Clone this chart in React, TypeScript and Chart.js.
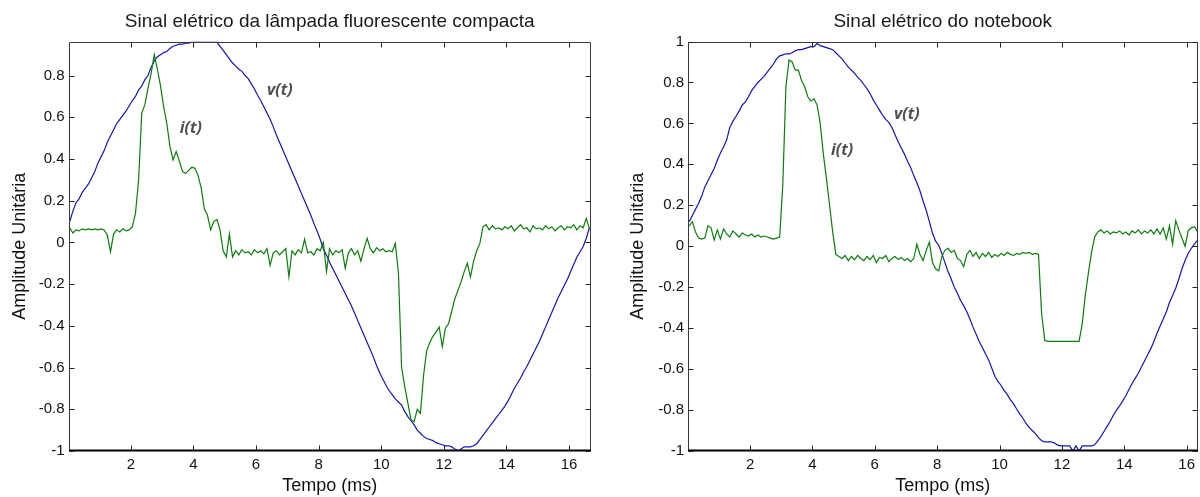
import React, { useEffect, useRef } from 'react';
import { Chart, registerables } from 'chart.js';

Chart.register(...registerables);

// ---- sampling of the traces (ms) ----
const SAMPLE_START_MS = 0.05;
const SAMPLE_STEP_MS = 0.1;

// ---- tick labels ----
const X_TICKS = [2, 4, 6, 8, 10, 12, 14, 16];
const Y_TICKS_LAMP = [-1, -0.8, -0.6, -0.4, -0.2, 0, 0.2, 0.4, 0.6, 0.8];
const Y_TICKS_NOTEBOOK = [-1, -0.8, -0.6, -0.4, -0.2, 0, 0.2, 0.4, 0.6, 0.8, 1];

// ---- texts ----
const TITLE_LAMP = 'Sinal elétrico da lâmpada fluorescente compacta';
const TITLE_NOTEBOOK = 'Sinal elétrico do notebook';
const X_LABEL = 'Tempo (ms)';
const Y_LABEL = 'Amplitude Unitária';

// ---- series: compact fluorescent lamp ----
const LAMP_VOLTAGE = [
  0.10, 0.15, 0.19, 0.21, 0.24, 0.26, 0.28, 0.31, 0.34, 0.38,
  0.41, 0.44, 0.48, 0.51, 0.54, 0.57, 0.59, 0.61, 0.63, 0.655,
  0.68, 0.70, 0.73, 0.75, 0.78, 0.80, 0.84, 0.87, 0.89, 0.90,
  0.91, 0.915, 0.93, 0.94, 0.945, 0.95, 0.95, 0.955, 0.955, 0.96,
  0.96, 0.96, 0.96, 0.96, 0.96, 0.96, 0.96, 0.96, 0.94, 0.92,
  0.90, 0.88, 0.86, 0.845, 0.83, 0.82, 0.80, 0.785, 0.76, 0.735,
  0.705, 0.68, 0.65, 0.62, 0.59, 0.555, 0.515, 0.48, 0.445, 0.41,
  0.375, 0.34, 0.305, 0.27, 0.235, 0.20, 0.165, 0.13, 0.09, 0.055,
  0.015, -0.03, -0.06, -0.095, -0.125, -0.155, -0.185, -0.215, -0.245, -0.275,
  -0.305, -0.34, -0.375, -0.41, -0.445, -0.48, -0.515, -0.55, -0.59, -0.625,
  -0.655, -0.685, -0.71, -0.73, -0.75, -0.765, -0.78, -0.81, -0.835, -0.855,
  -0.875, -0.90, -0.915, -0.93, -0.94, -0.945, -0.95, -0.96, -0.965, -0.97,
  -0.975, -0.975, -0.98, -0.99, -1.0, -0.99, -0.98, -0.98, -0.98, -0.975,
  -0.965, -0.945, -0.925, -0.905, -0.885, -0.865, -0.845, -0.825, -0.805, -0.785,
  -0.76, -0.73, -0.70, -0.675, -0.65, -0.62, -0.595, -0.565, -0.535, -0.505,
  -0.475, -0.44, -0.405, -0.37, -0.335, -0.30, -0.265, -0.235, -0.205, -0.175,
  -0.14, -0.105, -0.07, -0.045, -0.02, 0.02, 0.07,
];

const LAMP_CURRENT = [
  0.07, 0.045, 0.06, 0.055, 0.065, 0.06, 0.065, 0.06, 0.065, 0.06,
  0.065, 0.06, 0.035, -0.045, 0.04, 0.06, 0.05, 0.065, 0.055, 0.06,
  0.075, 0.14, 0.30, 0.62, 0.66, 0.74, 0.81, 0.90, 0.83, 0.75,
  0.65, 0.57, 0.46, 0.395, 0.435, 0.39, 0.34, 0.33, 0.345, 0.36,
  0.355, 0.32, 0.26, 0.16, 0.13, 0.06, 0.10, 0.11, 0.06, -0.04,
  -0.07, 0.04, -0.07, -0.04, -0.06, -0.035, -0.05, -0.045, -0.06, -0.035,
  -0.05, -0.04, -0.055, -0.03, -0.11, -0.05, -0.04, -0.06, -0.045, -0.03,
  -0.165, -0.04, -0.06, -0.035, -0.05, 0.015, -0.05, -0.045, -0.06, -0.03,
  -0.04, 0.0, -0.14, -0.03, -0.06, -0.04, -0.05, -0.035, -0.125, -0.05,
  -0.03, -0.06, -0.04, -0.09, -0.03, 0.02, -0.03, -0.05, -0.025, -0.04,
  -0.03, -0.045, -0.04, -0.045, -0.005, -0.15, -0.60, -0.69, -0.77, -0.85,
  -0.86, -0.80, -0.82, -0.64, -0.52, -0.48, -0.45, -0.43, -0.405, -0.50,
  -0.41, -0.39, -0.33, -0.27, -0.23, -0.19, -0.14, -0.10, -0.165, -0.09,
  -0.04, -0.005, 0.075, 0.085, 0.06, 0.08, 0.065, 0.07, 0.06, 0.075,
  0.065, 0.08, 0.055, 0.07, 0.085, 0.065, 0.07, 0.05, 0.08, 0.065,
  0.07, 0.06, 0.08, 0.065, 0.075, 0.055, 0.07, 0.08, 0.06, 0.075,
  0.07, 0.085, 0.06, 0.08, 0.07, 0.115, 0.065,
];

// ---- series: notebook ----
const NOTEBOOK_VOLTAGE = [
  0.12, 0.15, 0.18, 0.21, 0.245, 0.29, 0.32, 0.35, 0.38, 0.42,
  0.455, 0.485, 0.52, 0.58, 0.61, 0.635, 0.66, 0.69, 0.705, 0.73,
  0.76, 0.78, 0.80, 0.815, 0.83, 0.85, 0.87, 0.89, 0.915, 0.93,
  0.935, 0.94, 0.94, 0.945, 0.955, 0.96, 0.96, 0.965, 0.97, 0.975,
  0.975, 0.99, 0.98, 0.975, 0.97, 0.965, 0.96, 0.945, 0.93, 0.915,
  0.895, 0.875, 0.86, 0.845, 0.825, 0.81, 0.79, 0.77, 0.745, 0.715,
  0.69, 0.665, 0.64, 0.62, 0.605, 0.58, 0.545, 0.51, 0.48, 0.45,
  0.415, 0.385, 0.345, 0.31, 0.27, 0.22, 0.175, 0.12, 0.065, 0.025,
  0.005, -0.035, -0.08, -0.125, -0.16, -0.20, -0.23, -0.265, -0.29, -0.32,
  -0.355, -0.395, -0.43, -0.465, -0.495, -0.525, -0.555, -0.595, -0.635, -0.66,
  -0.68, -0.705, -0.725, -0.75, -0.77, -0.795, -0.82, -0.84, -0.865, -0.885,
  -0.90, -0.915, -0.935, -0.95, -0.955, -0.955, -0.955, -0.96, -0.97, -0.975,
  -0.975, -0.975, -0.975, -1.0, -0.975, -1.0, -0.975, -0.975, -0.975, -0.975,
  -0.97, -0.95, -0.93, -0.905, -0.88, -0.855, -0.825, -0.80, -0.78, -0.755,
  -0.73, -0.70, -0.67, -0.645, -0.62, -0.59, -0.56, -0.53, -0.50, -0.465,
  -0.425, -0.39, -0.355, -0.32, -0.275, -0.24, -0.205, -0.16, -0.11, -0.07,
  -0.035, -0.01, 0.01, 0.03, 0.05, 0.07, 0.09,
];

const NOTEBOOK_CURRENT = [
  0.10, 0.12, 0.07, 0.04, 0.035, 0.04, 0.10, 0.09, 0.03, 0.08,
  0.035, 0.085, 0.06, 0.045, 0.075, 0.06, 0.045, 0.065, 0.055, 0.05,
  0.06, 0.045, 0.055, 0.045, 0.05, 0.045, 0.04, 0.035, 0.04, 0.045,
  0.30, 0.78, 0.91, 0.90, 0.86, 0.86, 0.81, 0.78, 0.73, 0.71,
  0.72, 0.69, 0.60, 0.45, 0.33, 0.20, 0.07, -0.04, -0.05, -0.06,
  -0.045, -0.07, -0.05, -0.065, -0.045, -0.06, -0.07, -0.05, -0.065, -0.045,
  -0.08, -0.055, -0.06, -0.045, -0.075, -0.06, -0.05, -0.065, -0.055, -0.07,
  -0.06, -0.075, -0.06, 0.01, -0.04, -0.07, -0.02, 0.02, -0.08, -0.11,
  -0.12, -0.05, -0.02, -0.01, -0.03, -0.02, -0.06, -0.07, -0.10, -0.04,
  -0.02, -0.05, -0.03, -0.06, -0.035, -0.05, -0.03, -0.055, -0.04, -0.05,
  -0.035, -0.045, -0.03, -0.04, -0.045, -0.035, -0.04, -0.03, -0.035, -0.03,
  -0.04, -0.035, -0.04, -0.33, -0.46, -0.465, -0.465, -0.465, -0.465, -0.465,
  -0.465, -0.465, -0.465, -0.465, -0.465, -0.465, -0.38, -0.24, -0.13, -0.03,
  0.045, 0.07, 0.08, 0.065, 0.075, 0.06, 0.07, 0.065, 0.075, 0.06,
  0.07, 0.055, 0.075, 0.065, 0.08, 0.06, 0.075, 0.065, 0.08, 0.06,
  0.085, 0.06, 0.09, 0.035, 0.10, 0.01, 0.125, 0.08, 0.04, 0.0,
  0.075, 0.09, 0.095, 0.07, 0.08, 0.07, 0.08,
];

// ---- annotation anchors (data coordinates) ----
const LAMP_NOTES = [
  { text: 'v(t)', t: 6.76, y: 0.73 },
  { text: 'i(t)', t: 3.92, y: 0.545 },
];
const NOTEBOOK_NOTES = [
  { text: 'v(t)', t: 7.03, y: 0.646 },
  { text: 'i(t)', t: 4.95, y: 0.468 },
];

// ---- styling ----
const BLUE = '#1414b4';
const GREEN = '#0c7d0c';
const FONT = '"Liberation Sans", Arial, sans-serif';
const TICK_FONT = { family: FONT, size: 15 };
const LABEL_FONT = { family: FONT, size: 18 };

type Note = { text: string; t: number; y: number };
type Panel = {
  title: string;
  voltage: number[];
  current: number[];
  xMin: number;
  xMax: number;
  yMin: number;
  yMax: number;
  yTicks: number[];
  notes: Note[];
  yAxisWidth: number;
  padRight: number;
  yTitlePad: number;
};

const PANELS: Panel[] = [
  {
    title: TITLE_LAMP,
    voltage: LAMP_VOLTAGE,
    current: LAMP_CURRENT,
    xMin: 0.01,
    xMax: 16.7,
    yMin: -1,
    yMax: 0.963,
    yTicks: Y_TICKS_LAMP,
    notes: LAMP_NOTES,
    yAxisWidth: 68.5,
    padRight: 9,
    yTitlePad: 9,
  },
  {
    title: TITLE_NOTEBOOK,
    voltage: NOTEBOOK_VOLTAGE,
    current: NOTEBOOK_CURRENT,
    xMin: 0.01,
    xMax: 16.35,
    yMin: -1,
    yMax: 1,
    yTicks: Y_TICKS_NOTEBOOK,
    notes: NOTEBOOK_NOTES,
    yAxisWidth: 88,
    padRight: 1,
    yTitlePad: 27,
  },
];

const CANVAS_W = 600;
const CANVAS_H = 497;
const PLOT_TOP = 41.5;
const PLOT_BOTTOM = 451;

function toPoints(values: number[]) {
  return values.map((v, i) => ({ x: SAMPLE_START_MS + i * SAMPLE_STEP_MS, y: v }));
}

const boxPlugin = {
  id: 'matlabBox',
  afterDatasetsDraw(chart: any) {
    const { ctx, chartArea } = chart;
    const { left, right, top, bottom } = chartArea;
    const xs = chart.scales.x;
    const ys = chart.scales.y;
    const L = Math.round(left) + 0.5;
    const R = Math.round(right) - 0.5;
    const T = Math.round(top) + 0.5;
    const B = Math.round(bottom) - 0.5;
    ctx.save();
    ctx.lineWidth = 1;
    ctx.strokeStyle = '#3a3a3a';
    ctx.beginPath();
    ctx.moveTo(L, B);
    ctx.lineTo(L, T);
    ctx.lineTo(R, T);
    ctx.lineTo(R, B);
    ctx.stroke();
    ctx.strokeStyle = '#000';
    ctx.lineWidth = 2;
    ctx.beginPath();
    ctx.moveTo(L - 0.5, B);
    ctx.lineTo(R + 0.5, B);
    ctx.stroke();
    ctx.lineWidth = 1;
    ctx.strokeStyle = '#222';
    const len = 5;
    ctx.beginPath();
    xs.ticks.forEach((_: any, i: number) => {
      const px = Math.round(xs.getPixelForTick(i)) + 0.5;
      ctx.moveTo(px, B);
      ctx.lineTo(px, B - len);
      ctx.moveTo(px, T);
      ctx.lineTo(px, T + len);
    });
    ys.ticks.forEach((_: any, i: number) => {
      const py = Math.round(ys.getPixelForTick(i)) + 0.5;
      ctx.moveTo(L, py);
      ctx.lineTo(L + len, py);
      ctx.moveTo(R, py);
      ctx.lineTo(R - len, py);
    });
    ctx.stroke();
    ctx.restore();
  },
};

function makeTextPlugin(panel: Panel) {
  return {
    id: 'panelTexts',
    afterDraw(chart: any) {
      const { ctx, chartArea } = chart;
      const xs = chart.scales.x;
      const ys = chart.scales.y;
      ctx.save();
      ctx.fillStyle = '#1a1a1a';
      ctx.font = `19px ${FONT}`;
      ctx.textAlign = 'center';
      ctx.textBaseline = 'middle';
      ctx.fillText(panel.title, (chartArea.left + chartArea.right) / 2, 22);
      ctx.fillStyle = '#505050';
      ctx.font = `italic bold 16px "Open Sans", ${FONT}`;
      panel.notes.forEach((n) => {
        ctx.fillText(n.text, xs.getPixelForValue(n.t), ys.getPixelForValue(n.y));
      });
      ctx.restore();
    },
  };
}

function makeConfig(panel: Panel): any {
  return {
    type: 'line',
    data: {
      datasets: [
        {
          label: 'i(t)',
          data: toPoints(panel.current),
          borderColor: GREEN,
          borderWidth: 1.2,
          pointRadius: 0,
          tension: 0,
          fill: false,
        },
        {
          label: 'v(t)',
          data: toPoints(panel.voltage),
          borderColor: BLUE,
          borderWidth: 1.2,
          pointRadius: 0,
          tension: 0,
          fill: false,
        },
      ],
    },
    options: {
      responsive: false,
      animation: false,
      events: [],
      layout: { padding: { left: 0, right: panel.padRight, top: PLOT_TOP, bottom: 0 } },
      plugins: {
        legend: { display: false },
        tooltip: { enabled: false },
        title: { display: false },
      },
      scales: {
        x: {
          type: 'linear',
          min: panel.xMin,
          max: panel.xMax,
          grid: { display: false, drawTicks: false },
          border: { display: false },
          afterBuildTicks: (scale: any) => {
            scale.ticks = X_TICKS.map((v) => ({ value: v }));
          },
          afterFit: (scale: any) => {
            scale.height = CANVAS_H - PLOT_BOTTOM;
          },
          ticks: {
            font: TICK_FONT,
            color: '#111',
            padding: 5,
            maxRotation: 0,
            autoSkip: false,
            callback: (v: number) => String(v),
          },
          title: {
            display: true,
            text: X_LABEL,
            font: LABEL_FONT,
            color: '#111',
            padding: { top: 0, bottom: 0 },
          },
        },
        y: {
          type: 'linear',
          min: panel.yMin,
          max: panel.yMax,
          grid: { display: false, drawTicks: false },
          border: { display: false },
          afterBuildTicks: (scale: any) => {
            scale.ticks = panel.yTicks.map((v) => ({ value: v }));
          },
          afterFit: (scale: any) => {
            scale.width = panel.yAxisWidth;
          },
          ticks: {
            font: TICK_FONT,
            color: '#111',
            padding: 4,
            autoSkip: false,
            callback: (v: number) => String(Number(v.toFixed(1))),
          },
          title: {
            display: true,
            text: Y_LABEL,
            font: LABEL_FONT,
            color: '#111',
            padding: { top: panel.yTitlePad, bottom: 0 },
          },
        },
      },
    },
    plugins: [boxPlugin, makeTextPlugin(panel)],
  };
}

function PanelChart({ panel, left }: { panel: Panel; left: number }) {
  const ref = useRef<HTMLCanvasElement | null>(null);
  useEffect(() => {
    if (!ref.current) return;
    const chart = new Chart(ref.current, makeConfig(panel));
    return () => chart.destroy();
  }, [panel]);
  return (
    <canvas
      ref={ref}
      width={CANVAS_W}
      height={CANVAS_H}
      style={{ position: 'absolute', left, top: 0, width: CANVAS_W, height: CANVAS_H }}
    />
  );
}

export default function App() {
  return (
    <div
      style={{
        position: 'fixed',
        left: 0,
        top: 0,
        width: 1200,
        height: 497,
        background: '#fff',
        overflow: 'hidden',
      }}
    >
      <PanelChart panel={PANELS[0]} left={0} />
      <PanelChart panel={PANELS[1]} left={600} />
    </div>
  );
}
